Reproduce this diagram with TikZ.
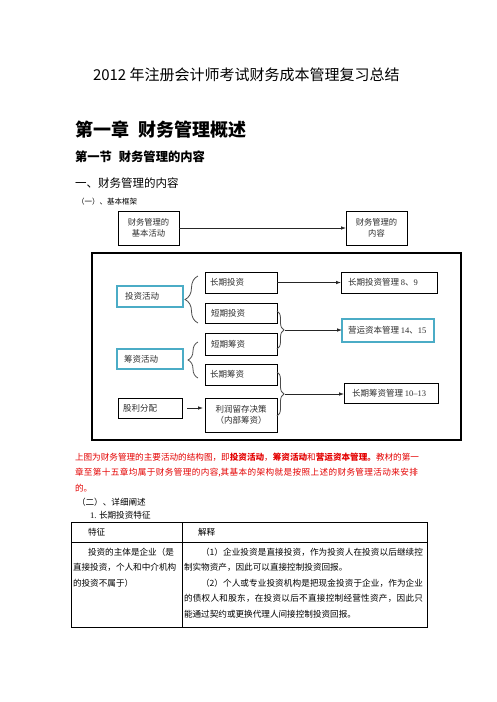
\documentclass[tikz,border=0pt]{standalone}
\usepackage{fontspec}
\setmainfont{Noto Sans CJK SC}
\newfontfamily\sr{Liberation Serif}
\usetikzlibrary{arrows.meta,decorations.pathreplacing}
\newcount\mycc
\mycc="3000
\loop \XeTeXcharclass\mycc=1 \advance\mycc by 1 \ifnum\mycc<"A000 \repeat
\mycc="FF00
\loop \XeTeXcharclass\mycc=1 \advance\mycc by 1 \ifnum\mycc<"FFF0 \repeat
\XeTeXinterchartoks 1 1 = {\hskip 0pt plus 2pt\relax}
\XeTeXinterchartokenstate=1
\definecolor{teal1}{RGB}{75,172,198}
\definecolor{redt}{RGB}{228,0,0}
\definecolor{txt}{RGB}{45,45,45}
\begin{document}
\begin{tikzpicture}[x=1pt,y=-1pt,
  box/.style={draw=black, line width=0.9pt, inner sep=0pt, outer sep=0pt, anchor=north west, text=txt, font=\fontsize{8.5}{11}\selectfont},
  tbox/.style={box, draw=teal1, line width=1.6pt},
  arr/.style={draw=black!85, line width=0.8pt, -{Latex[length=5pt,width=3.6pt]}},
  brc/.style={draw=black!70, line width=0.8pt, decorate, decoration={brace, amplitude=#1}},
  brc/.default=7pt,
  txtn/.style={anchor=west, inner sep=0pt, outer sep=0pt},
  body/.style={txtn, font=\fontsize{8.6}{11}\selectfont},
  redl/.style={body, text=redt}
]
\fill[white] (0,0) rectangle (496,702);
\useasboundingbox (0,0) rectangle (496,702);

% headings
\node[txtn, font=\fontsize{15}{18}\selectfont] (title) at (93,75) {2012 年注册会计师考试财务成本管理复习总结};
\node[txtn, font=\fontsize{18}{21}\selectfont\bfseries] (h1) at (75,130) {第一章\hspace{9pt}财务管理概述};
\node[txtn, font=\fontsize{12.3}{15}\selectfont\bfseries] (h2) at (75,157) {第一节\hspace{7pt}财务管理的内容};
\node[txtn, font=\fontsize{11.5}{14}\selectfont] (h3) at (75,183) {一、财务管理的内容};
\node[txtn, font=\fontsize{7.5}{9}\selectfont] (h4) at (77,202) {（一）、基本框架};

% top boxes
\node[box, align=center, minimum width=61pt, minimum height=34pt, font=\fontsize{8.3}{11}\selectfont] (fa) at (118,211) {财务管理的\\基本活动};
\node[box, align=center, minimum width=61pt, minimum height=34pt, font=\fontsize{8.3}{11}\selectfont] (fc) at (346,211) {财务管理的\\内容};
\draw[arr] (fa) -- (fc);

% frame
\node[draw=black, line width=1.3pt, inner sep=0pt, outer sep=0pt, anchor=north west, minimum width=369pt, minimum height=187pt] (frame) at (92,253) {};

% left column
\node[tbox, minimum height=21pt] (inv) at (117,286) {\makebox[66pt][l]{\hspace{8pt}投资活动}};
\node[tbox, minimum height=20pt] (fin) at (117,349) {\makebox[66pt][l]{\hspace{7pt}筹资活动}};
\node[box, minimum height=20pt] (div) at (118,398) {\makebox[64pt][l]{\hspace{5pt}股利分配}};

% middle column
\node[box, minimum height=21pt] (lt) at (205,272) {\makebox[72pt][l]{\hspace{5pt}长期投资}};
\node[box, minimum height=20pt] (st) at (205,303) {\makebox[72pt][l]{\hspace{6pt}短期投资}};
\node[box, minimum height=22pt] (sf) at (205,333) {\makebox[72pt][l]{\hspace{6pt}短期筹资}};
\node[box, minimum height=21pt] (lf) at (205,364) {\makebox[72pt][l]{\hspace{5pt}长期筹资}};
\node[box, minimum width=72pt, minimum height=34pt, align=center, font=\fontsize{8.5}{11.5}\selectfont] (re) at (205,398) {利润留存决策\\（内部筹资）};

% right column
\node[box, minimum height=21pt] (ltm) at (341,272) {\makebox[96pt][l]{\hspace{7pt}长期投资管理 {\sr 8}、{\sr 9}}};
\node[tbox, minimum height=23pt] (wc) at (342,319) {\makebox[92pt][l]{\hspace{6pt}营运资本管理 {\sr 14}、{\sr 15}}};
\node[box, minimum height=20pt] (lfm) at (344,383) {\makebox[94pt][l]{\hspace{8pt}长期筹资管理 {\sr 10–13}}};

% braces
\coordinate (b1a) at (198,323); \coordinate (b1b) at (198,276);
\draw[brc=13pt] (b1a) -- (b1b);
\coordinate (b2a) at (198,378); \coordinate (b2b) at (198,342);
\draw[brc=10pt] (b2a) -- (b2b);
\coordinate (b3a) at (277,311); \coordinate (b3b) at (277,349);
\draw[brc=7pt] (b3a) -- (b3b);
\coordinate (b4a) at (277,372); \coordinate (b4b) at (277,416);
\draw[brc=7pt] (b4a) -- (b4b);
\coordinate (b3tip) at (285,330);
\coordinate (b4tip) at (285,394);

% arrows
\draw[arr] (lt.east) -- (ltm.west);
\draw[arr] (b3tip) -- (b3tip -| wc.west);
\draw[arr] (b4tip) -- (b4tip -| lfm.west);
\draw[arr, shorten <=5pt, shorten >=2pt] (div.east) -- (div.east -| re.west);

% red paragraph
\node[redl] (r1) at (75,457) {\makebox[343pt][s]{上图为财务管理的主要活动的结构图，即\textbf{投资活动}，\textbf{筹资活动}和\textbf{营运资本管理}\textbf{。}教材的第一}};
\node[redl] (r2) at (75,473) {\makebox[343pt][s]{章至第十五章均属于财务管理的内容,其基本的架构就是按照上述的财务管理活动来安排}};
\node[redl] (r3) at (75,488) {的。};

\node[body] (s2) at (77,502) {（二）、详细阐述};
\node[body] (s3) at (90,515) {{\sr 1.} 长期投资特征};

% table
\draw[line width=0.8pt] (71,522) rectangle (427,627);
\draw[line width=0.8pt] (71,542) -- (427,542);
\draw[line width=0.8pt] (182,522) -- (182,627);
\node[body] (th1) at (88,532) {特征};
\node[body] (th2) at (198,532) {解释};
\node[body] (l1) at (88,552) {投资的主体是企业（是};
\node[body] (l2) at (73,567) {直接投资，个人和中介机构};
\node[body] (l3) at (73,583) {的投资不属于）};
\node[body] (p1) at (201,552) {\makebox[222pt][s]{（1）企业投资是直接投资，作为投资人在投资以后继续控}};
\node[body] (p2) at (184,567) {制实物资产，因此可以直接控制投资回报。};
\node[body] (p3) at (201,583) {\makebox[222pt][s]{（2）个人或专业投资机构是把现金投资于企业，作为企业}};
\node[body] (p4) at (184,598) {\makebox[239pt][s]{的债权人和股东，在投资以后不直接控制经营性资产，因此只}};
\node[body] (p5) at (184,614) {能通过契约或更换代理人间接控制投资回报。};
\end{tikzpicture}
\end{document}
